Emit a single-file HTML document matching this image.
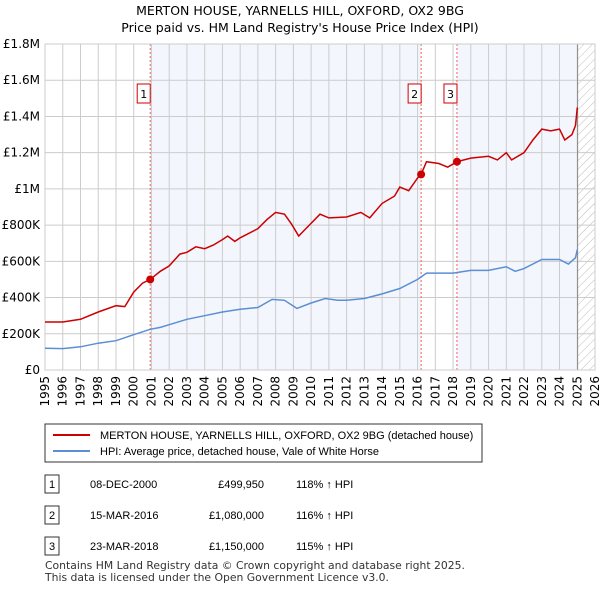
<!DOCTYPE html>
<html><head><meta charset="utf-8"><style>
body{margin:0;background:#fff;font-family:"Liberation Sans",sans-serif;}
svg text{font-family:"Liberation Sans",sans-serif;}
svg text.dv{font-family:"DejaVu Sans",sans-serif;}
</style></head><body>
<svg width="600" height="590" xmlns="http://www.w3.org/2000/svg">
<defs><pattern id="hatch" width="6" height="6" patternUnits="userSpaceOnUse" patternTransform="rotate(45)"><line x1="0" y1="0" x2="0" y2="6" stroke="#bbb" stroke-width="1"/></pattern></defs>
<text class="dv" x="300" y="15" text-anchor="middle" font-size="12.5">MERTON HOUSE, YARNELLS HILL, OXFORD, OX2 9BG</text>
<text class="dv" x="300" y="32" text-anchor="middle" font-size="12.5">Price paid vs. HM Land Registry's House Price Index (HPI)</text>
<g id="plot"></g>
<g id="legend">
<rect x="45" y="424" width="437" height="38" fill="#fff" stroke="#333"/>
<line x1="53" y1="435" x2="90" y2="435" stroke="#cc0000" stroke-width="2"/>
<text x="100" y="439" font-size="11">MERTON HOUSE, YARNELLS HILL, OXFORD, OX2 9BG (detached house)</text>
<line x1="53" y1="451" x2="90" y2="451" stroke="#5b8fd4" stroke-width="2"/>
<text x="100" y="455" font-size="11">HPI: Average price, detached house, Vale of White Horse</text>
</g>
<g id="table"></g>
<text class="dv" x="45" y="569" font-size="10.8" fill="#333">Contains HM Land Registry data © Crown copyright and database right 2025.</text>
<text class="dv" x="45" y="581" font-size="10.8" fill="#333">This data is licensed under the Open Government Licence v3.0.</text>
</svg>
<script>
const hpiYears=[1995,1996,1997,1998,1999,2000,2000.93,2001.5,2002,2003,2004,2005,2006,2007,2007.8,2008.5,2009.2,2010,2010.8,2011.5,2012,2013,2014,2015,2016,2016.5,2017,2018,2019,2020,2021,2021.5,2022,2023,2024,2024.5,2024.9,2025.0];
const hpiValues=[120,118,128,148,162,195,225,235,250,280,300,320,335,345,390,385,340,370,395,385,385,395,420,450,500,535,535,535,550,550,570,545,560,610,610,585,620,665];
const propYears=[1995,1996,1997,1998,1999,1999.5,2000,2000.5,2000.93,2001.5,2002,2002.6,2003,2003.5,2004,2004.5,2005,2005.3,2005.7,2006,2007,2007.5,2008,2008.5,2008.9,2009.3,2009.8,2010.5,2011,2012,2012.8,2013.3,2014,2014.7,2015,2015.5,2016,2016.2,2016.5,2017.2,2017.7,2018.22,2019,2020,2020.5,2021,2021.3,2022,2022.5,2023,2023.5,2024,2024.3,2024.7,2024.9,2025.0];
const propValues=[265,265,280,320,355,350,430,480,500,545,575,640,650,680,670,690,720,740,710,730,780,830,870,860,805,740,790,860,840,845,870,840,920,960,1010,990,1060,1080,1150,1140,1120,1150,1170,1180,1160,1200,1160,1200,1270,1330,1320,1330,1270,1300,1350,1450];
const saleYears=[2000.93,2016.2,2018.22];
const saleValues=[499950,1080000,1150000];
const saleLabels=["1","2","3"];
const saleDates=["08-DEC-2000","15-MAR-2016","23-MAR-2018"];
const salePrices=["£499,950","£1,080,000","£1,150,000"];
const saleHpi=["118% ↑ HPI","116% ↑ HPI","115% ↑ HPI"];
const yTicks=[0,200000,400000,600000,800000,1000000,1200000,1400000,1600000,1800000];
const yTickLabels=["£0","£200K","£400K","£600K","£800K","£1M","£1.2M","£1.4M","£1.6M","£1.8M"];
const xTicks=[1995,1996,1997,1998,1999,2000,2001,2002,2003,2004,2005,2006,2007,2008,2009,2010,2011,2012,2013,2014,2015,2016,2017,2018,2019,2020,2021,2022,2023,2024,2025,2026];

const NS="http://www.w3.org/2000/svg";
const L=45,R=595,T=44,B=370,END=2025.02;
const xs=y=>L+(y-1995)/31*(R-L);
const ys=v=>B-v/1800000*(B-T);
const plot=document.getElementById('plot');
function mk(tag,at,parent){const e=document.createElementNS(NS,tag);for(const k in at)e.setAttribute(k,at[k]);(parent||plot).appendChild(e);return e;}
let e;
e=mk('rect',{x:xs(saleYears[0]),y:T,width:xs(saleYears[1])-xs(saleYears[0]),height:B-T,fill:'#eef2fc',opacity:0.7});


e=mk('rect',{x:xs(saleYears[2]),y:T,width:xs(END)-xs(saleYears[2]),height:B-T,fill:'#eef2fc',opacity:0.7});


e=mk('rect',{x:xs(END),y:T,width:R-xs(END),height:B-T,fill:'url(#hatch)'});


yTicks.forEach((t,i)=>{
 e=mk('line',{x1:L,x2:R,y1:ys(t),y2:ys(t),stroke:'#ccc'});
 
 
 e=mk('text',{x:L-5,y:ys(t)+4,'text-anchor':'end','font-size':12,'class':'dv'});
 e.textContent=yTickLabels[i];
 
 
});
xTicks.forEach(t=>{
 e=mk('line',{x1:xs(t),x2:xs(t),y1:T,y2:B,stroke:'#ccc'});
 
 
 e=mk('text',{x:0,y:0,'text-anchor':'end','font-size':12,'class':'dv',transform:`translate(${xs(t)+4},${B+6}) rotate(-90)`});
 e.textContent=t;
 
 
});
e=mk('line',{x1:xs(END),x2:xs(END),y1:T,y2:B,stroke:'#888'});


saleYears.forEach((s,i)=>{
 e=mk('line',{x1:xs(s),x2:xs(s),y1:T,y2:B,stroke:'#f06060','stroke-dasharray':'2,2'});
 
 
 e=mk('rect',{x:xs(s)-13,y:84,width:13,height:19,fill:'#fff',stroke:'#cc0000'});
 
 
 e=mk('text',{x:xs(s)-6.5,y:98,'text-anchor':'middle','font-size':11,'class':'dv'});
 e.textContent=saleLabels[i];
 
 
});
e=mk('rect',{x:L,y:T,width:R-L,height:B-T,fill:'none',stroke:'#ccc'});


function path(xa,va){return xa.map((x,i)=>(i?'L':'M')+xs(x).toFixed(1)+','+ys(va[i]*1000).toFixed(1)).join('');}
e=mk('path',{d:path(hpiYears,hpiValues),fill:'none',stroke:'#5b8fd4','stroke-width':1.5});


e=mk('path',{d:path(propYears,propValues),fill:'none',stroke:'#cc0000','stroke-width':1.5});


saleYears.forEach((s,i)=>{
 e=mk('circle',{cx:xs(s),cy:ys(saleValues[i]),r:4,fill:'#cc0000'});
 
 
});
const tb=document.getElementById('table');
const rowY=[487,518,549];
saleLabels.forEach((l,i)=>{
 e=mk('rect',{x:45,y:rowY[i]-12,width:14,height:18,fill:'#fff',stroke:'#333'},tb);
 
 
 e=mk('text',{x:52,y:rowY[i]+1,'text-anchor':'middle','font-size':11},tb);e.textContent=l;
 
 
 e=mk('text',{x:90,y:rowY[i]+1,'font-size':11},tb);e.textContent=saleDates[i];
 
 
 e=mk('text',{x:264,y:rowY[i]+1,'text-anchor':'end','font-size':11},tb);e.textContent=salePrices[i];
 
 
 e=mk('text',{x:296,y:rowY[i]+1,'font-size':11},tb);e.textContent=saleHpi[i];
 
 
});
</script>
</body></html>
